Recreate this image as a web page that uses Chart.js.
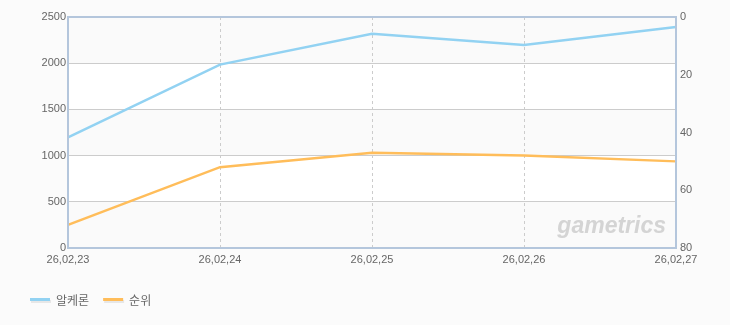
<!DOCTYPE html>
<html>
<head>
<meta charset="utf-8">
<script src="https://cdn.jsdelivr.net/npm/chart.js@4/dist/chart.umd.min.js"></script>
<style>
html,body{margin:0;padding:0;background:#fbfbfb;}
#wrap{width:730px;height:325px;position:relative;}
</style>
</head>
<body>
<div id="wrap"><canvas id="c" width="730" height="325"></canvas></div>
<script>
const categories = ["26,02,23", "26,02,24", "26,02,25", "26,02,26", "26,02,27"];
const seriesNames = ["알케론", "순위"];
const seriesColors = ["#92d2f2", "#ffbd5a"];
const valuesMain = [1196, 1985, 2318, 2198, 2393];
const valuesRank = [72, 52, 47, 48, 50];
const leftTicks = [0, 500, 1000, 1500, 2000, 2500];
const rightTicks = [0, 20, 40, 60, 80];

const tickFont = {family: '"Liberation Sans", Arial, sans-serif', size: 11};

const bandsPlugin = {
  id: 'bands',
  beforeDraw(chart) {
    const {ctx, chartArea: a, scales} = chart;
    const y = scales.y;
    ctx.save();
    ctx.fillStyle = '#ffffff';
    ctx.fillRect(a.left, a.top, a.right - a.left, a.bottom - a.top);
    for (let i = 0; i < leftTicks.length - 1; i++) {
      if ((leftTicks.length - 2 - i) % 2 === 0) {
        const y1 = y.getPixelForValue(leftTicks[i]);
        const y2 = y.getPixelForValue(leftTicks[i + 1]);
        ctx.fillStyle = '#fafafa';
        ctx.fillRect(a.left, y2, a.right - a.left, y1 - y2);
      }
    }
    ctx.restore();
  },
  afterDatasetsDraw(chart) {
    const {ctx, chartArea: a} = chart;
    ctx.save();
    ctx.font = 'italic bold 23px "Liberation Sans", sans-serif';
    ctx.fillStyle = '#d4d4d4';
    ctx.textAlign = 'right';
    ctx.textBaseline = 'alphabetic';
    ctx.fillText('gametrics', a.right - 10, a.bottom - 15);
    ctx.restore();
  },
  afterDraw(chart) {
    const {ctx, chartArea: a} = chart;
    ctx.save();
    ctx.strokeStyle = '#b4c6dc';
    ctx.lineWidth = 2;
    ctx.strokeRect(a.left, a.top, a.right - a.left, a.bottom - a.top);
    // legend
    ctx.font = '12px "Noto Sans CJK KR", sans-serif';
    ctx.textBaseline = 'middle';
    let x = 30;
    const ly = 300;
    seriesNames.forEach((name, i) => {
      ctx.fillStyle = 'rgba(0,0,0,0.08)';
      ctx.fillRect(x + 1, ly, 20, 3);
      ctx.fillStyle = seriesColors[i];
      ctx.fillRect(x, ly - 2, 20, 3);
      ctx.fillStyle = '#666';
      ctx.fillText(name, x + 26, ly + 0.5);
      x += 26 + ctx.measureText(name).width + 14;
    });
    ctx.restore();
  }
};

new Chart(document.getElementById('c'), {
  type: 'line',
  data: {
    labels: categories,
    datasets: [
      {label: seriesNames[0], data: valuesMain, yAxisID: 'y', borderColor: seriesColors[0], backgroundColor: seriesColors[0], borderWidth: 2.5, pointRadius: 0, tension: 0},
      {label: seriesNames[1], data: valuesRank, yAxisID: 'y2', borderColor: seriesColors[1], backgroundColor: seriesColors[1], borderWidth: 2.5, pointRadius: 0, tension: 0}
    ]
  },
  options: {
    responsive: false,
    animation: false,
    layout: {padding: {left: 0, right: 0, top: 17, bottom: 0}},
    plugins: {
      tooltip: {enabled: false},
      legend: {display: false}
    },
    scales: {
      x: {
        offset: false,
        afterFit(s) { s.height = 77; },
        grid: {color: '#cccccc', drawTicks: false},
        border: {display: false, dash: [3, 3]},
        ticks: {color: '#666', font: tickFont, padding: 5, maxRotation: 0, autoSkip: false}
      },
      y: {
        position: 'left', min: 0, max: 2500,
        afterBuildTicks(s) { s.ticks = leftTicks.map(v => ({value: v})); },
        afterFit(s) { s.width = 68; },
        grid: {color: '#cccccc', drawTicks: false},
        border: {display: false},
        ticks: {color: '#666', font: tickFont, padding: 2, callback: v => String(v)}
      },
      y2: {
        position: 'right', min: 0, max: 80, reverse: true,
        afterBuildTicks(s) { s.ticks = rightTicks.map(v => ({value: v})); },
        afterFit(s) { s.width = 54; },
        grid: {display: false, drawTicks: false},
        border: {display: false},
        ticks: {color: '#666', font: tickFont, padding: 4, callback: v => String(v)}
      }
    }
  },
  plugins: [bandsPlugin]
});
</script>
</body>
</html>
